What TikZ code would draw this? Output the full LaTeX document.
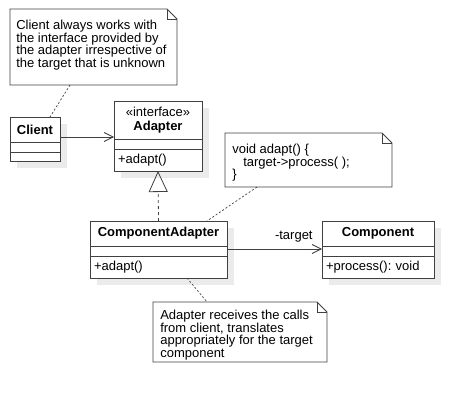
\documentclass[tikz,border=0pt]{standalone}
\usepackage{fontspec}
\setmainfont{Liberation Sans}
\usepackage{tikz}
\usetikzlibrary{positioning,backgrounds,arrows.meta}
\definecolor{linegray}{HTML}{404040}
\definecolor{shadowgray}{HTML}{EBEBEB}
\newcommand{\umlfont}{\fontsize{13}{12.5}\selectfont\frenchspacing}
\newcommand{\dognote}[1]{%
  \draw[noteline] (#1.north west) -- ([xshift=-10pt]#1.north east) -- ([yshift=-10pt]#1.north east) -- (#1.south east) -- (#1.south west) -- cycle;
  \draw[noteline] ([xshift=-10pt]#1.north east) |- ([yshift=-10pt]#1.north east);}

\begin{document}
\begin{tikzpicture}[x=1pt,y=-1pt,font=\umlfont,>={Straight Barb[length=9pt,width=9pt]},semithick]
\tikzstyle{classbox}=[draw=linegray,line width=0.9pt,fill=white,inner xsep=4pt,inner ysep=0pt,outer sep=0pt]
\tikzstyle{classname}=[classbox,font=\umlfont\bfseries,align=center]
\tikzstyle{classops}=[classbox,align=left]
\tikzstyle{notebox}=[anchor=north west,inner sep=0pt,outer sep=0pt,fill=white]
\tikzstyle{notetext}=[anchor=north west,inner sep=0pt,align=left]
\tikzstyle{noteline}=[draw=linegray,line width=0.8pt]
\tikzstyle{notelink}=[linegray,line width=0.7pt,dash pattern=on 2pt off 2pt]
\useasboundingbox (0,0) rectangle (474,404);

% notes
\node[notebox,minimum width=167pt,minimum height=76pt] (NoteClient) at (10,9) {};
\dognote{NoteClient}
\node[notetext] (NoteClientText) at ([shift={(6pt,-11pt)}]NoteClient.north west)
  {Client always works with\\the interface provided by\\the adapter irrespective of\\the target that is unknown};
\node[notebox,minimum width=167pt,minimum height=54pt] (NoteCode) at (225,133) {};
\dognote{NoteCode}
\node[notetext] (NoteCodeText) at ([shift={(7pt,-11pt)}]NoteCode.north west)
  {void adapt() \{\\\hspace*{11pt}target->process( );\\\}};
\node[notebox,minimum width=174pt,minimum height=60pt] (NoteAdapter) at (153,302) {};
\dognote{NoteAdapter}
\node[notetext] (NoteAdapterText) at ([shift={(7pt,-8pt)}]NoteAdapter.north west)
  {Adapter receives the calls\\from client, translates\\appropriately for the target\\component};

% classes
\node[classname,minimum width=50pt,minimum height=25pt] (Client) at (35,129.5) {Client};
\node[classbox,minimum width=50pt,minimum height=10pt,below=0pt of Client] (ClientAttr) {};
\node[classbox,minimum width=50pt,minimum height=9pt,below=0pt of ClientAttr] (ClientOps) {};

\node[classname,minimum width=88pt,minimum height=38pt] (Adapter) at (158,120) {{\mdseries «interface»}\\[1.5pt]Adapter};
\node[classbox,minimum width=88pt,minimum height=10pt,below=0pt of Adapter] (AdapterAttr) {};
\node[classops,text width=80pt,minimum height=22pt,below=0pt of AdapterAttr] (AdapterOps) {+adapt()};

\node[classname,minimum width=137pt,minimum height=25pt] (ComponentAdapter) at (158.5,233.5) {ComponentAdapter};
\node[classbox,minimum width=137pt,minimum height=10pt,below=0pt of ComponentAdapter] (ComponentAdapterAttr) {};
\node[classops,text width=129pt,minimum height=22pt,below=0pt of ComponentAdapterAttr] (ComponentAdapterOps) {+adapt()};

\node[classname,minimum width=112pt,minimum height=25pt] (Component) at (378,233.5) {Component};
\node[classbox,minimum width=112pt,minimum height=10pt,below=0pt of Component] (ComponentAttr) {};
\node[classops,text width=104pt,minimum height=22pt,below=0pt of ComponentAttr] (ComponentOps) {+process(): void};

% shadows
\begin{scope}[on background layer]
\foreach \cname/\cops in {Client/ClientOps,Adapter/AdapterOps,ComponentAdapter/ComponentAdapterOps,Component/ComponentOps}
  \fill[shadowgray] ([shift={(7pt,-7pt)}]\cname.north west) rectangle ([shift={(7pt,-7pt)}]\cops.south east);
\end{scope}

% links
\draw[notelink] ([xshift=60pt]NoteClient.south west) -- ([xshift=15pt]Client.north);
\draw[notelink] ([xshift=32pt]NoteCode.south west) -- ([xshift=-20pt]ComponentAdapter.north east);
\draw[notelink] ([xshift=28.5pt]ComponentAdapterOps.south) -- ([xshift=54pt]NoteAdapter.north west);

\draw[linegray,line width=0.8pt,dash pattern=on 3pt off 3pt,-{Triangle[open,length=21pt,width=19pt]}]
  (ComponentAdapter.north) -- (AdapterOps.south);
\draw[->,linegray,line width=0.8pt] ([yshift=5pt]Client.south east) -- ([yshift=5pt]Client.south east -| Adapter.west);
\draw[->,linegray,line width=0.8pt] ([yshift=-3pt]ComponentAdapter.south east) -- ([yshift=-3pt]ComponentAdapter.south east -| Component.west)
  node[pos=1,anchor=base east,xshift=-9pt,yshift=10pt,inner sep=0pt,text=black] {-target};
\end{tikzpicture}
\end{document}
